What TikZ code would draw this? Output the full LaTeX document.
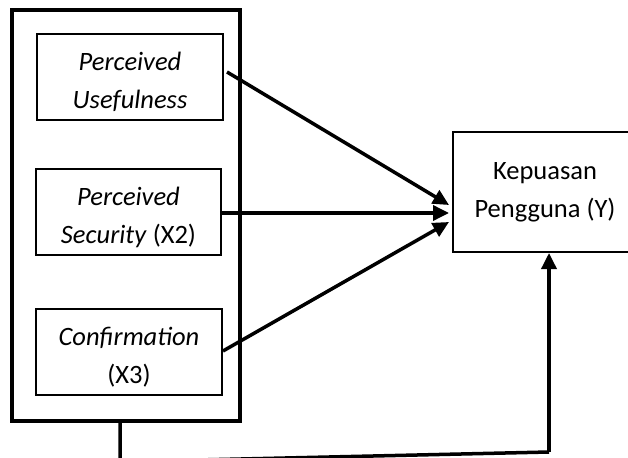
\documentclass[tikz,border=0pt]{standalone}
\usepackage{fontspec}
\setmainfont{Carlito}
\usetikzlibrary{arrows.meta}

% strut that pushes the text of a left box a little lower
\newcommand{\boxstrut}{\rule{0pt}{29pt}}

\begin{document}
\begin{tikzpicture}[x=1pt,y=-1pt,
  varbox/.style={draw, line width=2pt, minimum width=186pt, minimum height=86pt,
    inner sep=0pt, align=center, font=\fontsize{26.5}{38}\selectfont},
  link/.style={line width=3.5pt},
  arrow/.style={line width=3.5pt, -{Triangle[length=16pt,width=15pt]}}]
  \useasboundingbox (0,0) rectangle (628,457);

  % frame round the three variables
  \node[draw, line width=3.5pt, minimum width=228pt, minimum height=411pt, inner sep=0pt] (grp) at (126,215.5) {};

  % independent variables
  \node[varbox] (x1) at (130,77) {\boxstrut\textit{Perceived}\\\textit{Usefulness}};
  \node[varbox, minimum width=185pt] (x2) at (128.5,212) {\boxstrut\textit{Perceived}\\\textit{Security} (X2)};
  \node[varbox] (x3) at (129,352) {\boxstrut\textit{Confirmation}\\(X3)};

  % dependent variable
  \node[varbox, minimum width=184pt, minimum height=120pt] (y) at (545,192) {Kepuasan\\Pengguna (Y)};

  % arrows into Y
  \coordinate (in1) at ([shift={(-3pt,-13pt)}]y.west);
  \coordinate (in2) at ([shift={(-3pt,-21pt)}]y.west);
  \coordinate (in3) at ([shift={(-3pt,-30pt)}]y.west);
  \draw[arrow] ([shift={(3pt,5pt)}]x1.east) -- (in1);
  \draw[arrow] ([shift={(-2pt,-1pt)}]x2.east) -- (in2);
  \draw[arrow] ([yshift=1pt]x3.east) -- (in3);

  % path from the frame round to Y
  \coordinate (turn) at (549,452);
  \draw[link] ([xshift=-6pt]grp.south) coordinate (out) -- ++(0,39) coordinate (low) -- (turn);
  \draw[arrow] (turn) -- (turn |- y.south);
\end{tikzpicture}
\end{document}
